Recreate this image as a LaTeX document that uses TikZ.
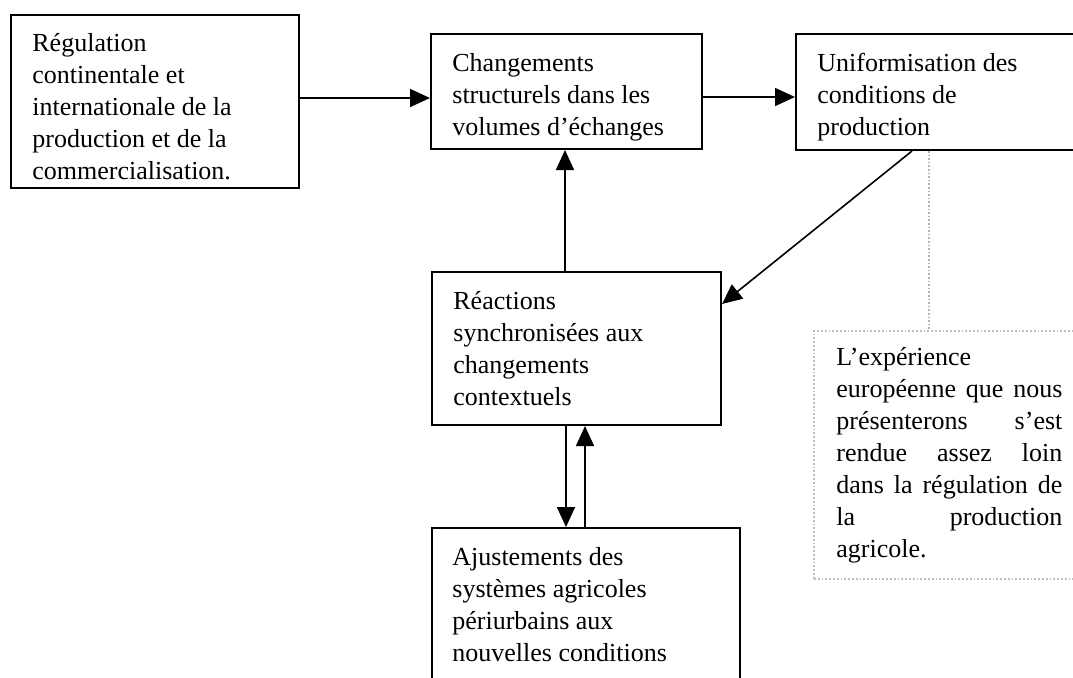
\documentclass[tikz,border=0pt]{standalone}
\usepackage{fontspec}
\setmainfont{Liberation Serif}
\usetikzlibrary{arrows.meta}
\begin{document}
\begin{tikzpicture}[x=0.5pt,y=-0.5pt,
  blk/.style={draw=black, line width=1pt, inner sep=0pt, anchor=north west},
  note/.style={draw=gray!50, line width=0.9pt, densely dotted, inner sep=0pt, anchor=north west},
  txt/.style={anchor=base west, inner sep=0pt, font=\fontsize{13}{16}\selectfont},
  arr/.style={line width=0.8pt, -{Triangle[length=10pt,width=9pt]}},
  link/.style={draw=gray!60, line width=0.8pt, densely dotted}]
\clip (0,0) rectangle (1073,677);

% boxes
\node[blk, minimum width=144pt, minimum height=86.5pt] (b1) at (10,14) {};
\node[blk, minimum width=135.5pt, minimum height=57.5pt] (b2) at (430,33) {};
\node[blk, minimum width=152.5pt, minimum height=58pt] (b3) at (795,33) {};
\node[blk, minimum width=144.5pt, minimum height=76.5pt] (b4) at (431,271) {};
\node[note, minimum width=143.5pt, minimum height=124pt] (b5) at (813,330) {};
\node[blk, minimum width=154pt, minimum height=86.5pt] (b6) at (431,527) {};

% box texts
\node[txt] (t1) at (32,51) {\parbox[t]{150pt}{R\'egulation\\continentale et\\internationale de la\\production et de la\\commercialisation.}};
\node[txt] (t2) at (452,71) {\parbox[t]{150pt}{Changements\\structurels dans les\\volumes d’\'echanges}};
\node[txt] (t3) at (817,71) {\parbox[t]{150pt}{Uniformisation des\\conditions de\\production}};
\node[txt] (t4) at (453,309) {\parbox[t]{150pt}{R\'eactions\\synchronis\'ees aux\\changements\\contextuels}};
\node[txt] (t5) at (836,365) {\parbox[t]{113pt}{L’exp\'erience\\
  \makebox[113pt][s]{europ\'eenne\hfill que\hfill nous}\\
  \makebox[113pt][s]{pr\'esenterons\hfill s’est}\\
  \makebox[113pt][s]{rendue\hfill assez\hfill loin}\\
  \makebox[113pt][s]{dans\hfill la\hfill r\'egulation\hfill de}\\
  \makebox[113pt][s]{la\hfill production}\\
  agricole.}};
\node[txt] (t6) at (452,565) {\parbox[t]{150pt}{Ajustements des\\syst\`emes agricoles\\p\'eriurbains aux\\nouvelles conditions}};

% connectors
\draw[arr] (b1.east |- 0,98) -- (b2.west |- 0,98);
\draw[arr] (b2.east |- 0,97) -- (b3.west |- 0,97);
\draw[arr] (b4.north -| 565,0) -- (b2.south -| 565,0);
\draw[arr] (b3.south -| 912,0) -- (b4.east |- 0,304);
\draw[arr] (b4.south -| 566,0) -- (b6.north -| 566,0);
\draw[arr] (b6.north -| 585,0) -- (b4.south -| 585,0);
\draw[link] (b3.south -| 929,0) -- (b5.north -| 929,0);
\end{tikzpicture}
\end{document}
